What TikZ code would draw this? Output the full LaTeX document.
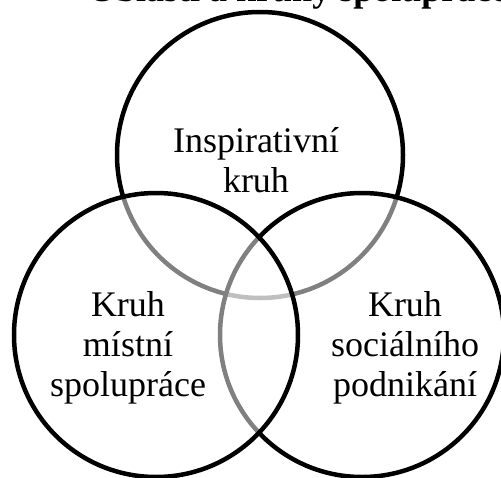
\documentclass[tikz,border=0pt]{standalone}
\usepackage{fontspec}
\setmainfont{Liberation Serif}
\begin{document}
\begin{tikzpicture}[x=1pt,y=-1pt,
  ring/.style={draw=black,line width=4.5pt},
  veil/.style={fill=white,fill opacity=0.5},
  lbl/.style={align=center,font=\fontsize{36}{40}\selectfont,inner sep=0pt},
  ttl/.style={font=\bfseries\fontsize{36}{40}\selectfont,inner sep=0pt,anchor=base west}]
\clip (0,0) rectangle (501,477);
\coordinate (ct) at (260,155);
\coordinate (cl) at (156,335);
\coordinate (cr) at (362,335);
\node[ttl] (title) at (88,1) {Oblasti a kruhy spolupráce};
\draw[ring] (ct) circle (143);
\path[veil] (cr) circle (142);
\draw[ring] (cr) circle (142);
\path[veil] (cl) circle (142);
\draw[ring] (cl) circle (142);
\node[lbl] (tt) at (256,160) {Inspirativní\\kruh};
\node[lbl] (lt) at (128,348) {Kruh\\místní\\spolupráce};
\node[lbl] (rt) at (405,348) {Kruh\\sociálního\\podnikání};
\end{tikzpicture}
\end{document}
